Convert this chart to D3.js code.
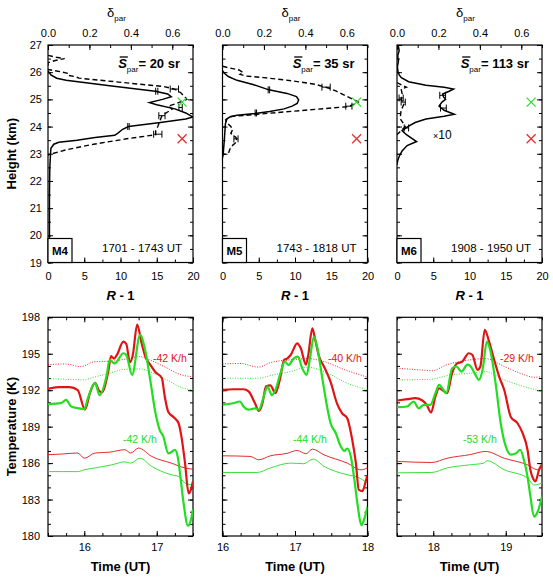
<!DOCTYPE html>
<html lang="en">
<head>
<meta charset="UTF-8">
<title>Profiles and temperatures M4-M6</title>
<style>
  body { margin: 0; padding: 0; background: #fff; }
  svg text { font-family: "Liberation Sans", Arial, Helvetica, sans-serif; fill: #000; }
  .frame { fill: none; stroke: #000; stroke-width: 1.2; }
  .tick line { stroke: #000; stroke-width: 1; }
</style>
</head>
<body>
<div id="chart"></div>
<script src="https://cdn.jsdelivr.net/npm/d3@7"></script>
<script>
// ---------- data ----------
const panelNames = ["M4", "M5", "M6"];
const timeRanges = ["1701 - 1743 UT", "1743 - 1818 UT", "1908 - 1950 UT"];
const sparValues = [20, 35, 113];

const heightTicks = [19, 20, 21, 22, 23, 24, 25, 26, 27];
const rTicks = [0, 5, 10, 15, 20];
const deltaTicks = [0.0, 0.2, 0.4, 0.6];
const tempTicks = [180, 183, 186, 189, 192, 195, 198];
const timeDomains = [[15.5, 17.5], [16, 18], [17.5, 19.5]];
const timeTicks = [[16, 17], [16, 17, 18], [18, 19]];
const redRates = ["-42 K/h", "-40 K/h", "-29 K/h"];
const greenRates = ["-42 K/h", "-44 K/h", "-53 K/h"];

// markers (R - 1, height)
const greenMarker = [18.5, 24.9];
const redMarker = [18.5, 23.55];

// backscatter R-1 profiles [height, R-1]
const m4Backscatter = [[26.05,0],[25.9,0.4],[25.78,1.2],[25.7,2.5],[25.5,8.5],[25.3,14.8],[25.2,16.5],[25.1,17.0],[25.0,15.8],[24.88,14.0],[24.8,15.0],[24.65,17.5],[24.5,19.0],[24.35,20.0],[24.28,19.0],[24.15,15.5],[24.0,11.1],[23.9,10.3],[23.75,9.6],[23.68,9.2],[23.6,6.5],[23.5,4.0],[23.42,1.5],[23.35,0.8],[23.2,0.4],[23.0,0.35],[22.5,0.25],[21.5,0.2],[19,0.2]];
const m5Backscatter = [[26.05,0],[25.95,0.3],[25.84,0.8],[25.7,2.0],[25.55,4.2],[25.35,6.4],[25.22,8.9],[25.1,10.2],[24.98,10.5],[24.85,10.3],[24.75,9.6],[24.65,8.5],[24.55,6.5],[24.48,4.5],[24.42,2.0],[24.35,1.0],[24.28,0.6],[24.1,0.4],[23.5,0.25],[23.0,0.1],[22.85,0]];
const m6Backscatter = [[27.0,0.15],[26.8,0.3],[26.6,0.1],[26.4,0.2],[26.2,0.05],[26.0,0.15],[25.9,0.3],[25.8,0.6],[25.65,1.6],[25.52,4.0],[25.45,6.5],[25.38,7.8],[25.3,7.2],[25.2,6.3],[25.1,6.4],[25.0,6.7],[24.9,6.2],[24.75,5.8],[24.6,6.5],[24.45,7.9],[24.38,6.5],[24.28,4.0],[24.15,2.5],[24.0,1.5],[23.85,0.7],[23.7,1.3],[23.45,2.7],[23.3,1.4],[23.1,0.7],[22.9,0.3],[22.75,0.1],[22.6,0]];

// depolarisation profiles [height, delta_par]
const m4Depol = [[26.62,0.0],[26.55,0.04],[26.5,0.08],[26.42,0.03],[26.35,0.0],[26.1,0.0],[26.02,0.06],[25.95,0.1],[25.88,0.1],[25.84,0.13],[25.78,0.15],[25.47,0.56],[25.38,0.61],[25.25,0.64],[25.1,0.66],[25.0,0.67],[24.85,0.62],[24.75,0.58],[24.65,0.6],[24.5,0.57],[24.4,0.55],[24.2,0.54],[24.0,0.53],[23.85,0.52],[23.7,0.52],[23.55,0.38],[23.35,0.22],[23.15,0.09],[23.0,0.02],[22.95,0.0]];
const m5Depol = [[26.22,0.0],[26.18,0.02],[26.08,0.08],[25.98,0.1],[25.92,0.085],[25.86,0.11],[25.8,0.2],[25.68,0.34],[25.55,0.45],[25.42,0.51],[25.3,0.55],[25.15,0.59],[25.0,0.63],[24.9,0.655],[24.8,0.63],[24.73,0.6],[24.37,0.04],[24.25,0.015],[24.15,0.02],[24.0,0.04],[23.9,0.05],[23.75,0.04],[23.6,0.065],[23.45,0.07],[23.25,0.04],[23.05,0.03],[22.95,0.0]];
const m6Depol = [[25.62,0.0],[25.5,0.03],[25.45,0.045],[25.38,0.02],[25.2,0.025],[25.0,0.02],[24.85,0.035],[24.6,0.02],[24.3,0.015],[24.0,0.04],[23.85,0.02],[23.7,0.0]];

// error bars [height, value, half width]
const m4BackscatterErr = [[25.3,15.0,0.15],[24.0,11.1,0.1]];
const m5BackscatterErr = [[25.35,6.4,0.1],[24.5,4.6,0.1]];
const m6BackscatterErr = [[25.15,6.3,0.4],[24.68,6.4,0.4],[23.95,1.3,0.3]];
const m4DepolErr = [[25.38,0.61,0.02],[24.7,0.64,0.008],[24.4,0.55,0.015],[23.72,0.53,0.02]];
const m5DepolErr = [[25.45,0.5,0.02],[24.75,0.61,0.015],[23.55,0.065,0.01]];
const m6DepolErr = [[25.05,0.02,0.01],[24.9,0.03,0.01]];

// temperatures [time UT, K]
const m4TempRed = [[15.5,192.1],[15.64,192.25],[15.8,192.25],[15.91,192.0],[16.01,190.4],[16.08,191.8],[16.15,192.6],[16.2,192.0],[16.24,191.8],[16.33,193.5],[16.37,194.8],[16.41,194.6],[16.45,194.9],[16.54,196.0],[16.58,195.8],[16.63,194.3],[16.67,194.9],[16.73,197.4],[16.79,195.9],[16.84,194.8],[16.91,194.1],[16.98,193.5],[17.07,193.0],[17.11,191.5],[17.16,190.2],[17.23,189.8],[17.3,189.3],[17.34,188.2],[17.39,186.0],[17.44,183.5],[17.47,183.8],[17.5,184.5]];
const m4TempGreen = [[15.5,190.85],[15.68,190.93],[15.75,191.2],[15.82,190.65],[15.91,190.52],[16.0,190.44],[16.05,191.34],[16.15,192.6],[16.21,191.6],[16.31,193.26],[16.35,194.5],[16.42,194.2],[16.54,195.04],[16.58,194.9],[16.66,193.26],[16.77,196.55],[16.84,195.3],[16.91,192.85],[16.98,190.2],[17.04,188.74],[17.09,188.2],[17.16,186.8],[17.2,186.9],[17.25,187.1],[17.29,186.5],[17.32,185.2],[17.37,182.7],[17.43,180.85],[17.47,181.3],[17.5,182.2]];
const m4UpperRed = [[15.5,194.1],[15.75,194.16],[15.95,193.94],[16.15,194.35],[16.4,194.4],[16.6,194.6],[16.76,194.76],[16.9,194.5],[17.1,193.95],[17.34,193.26],[17.5,193.1]];
const m4UpperGreen = [[15.5,192.95],[15.75,192.9],[15.98,192.85],[16.15,193.1],[16.35,193.4],[16.57,193.73],[16.77,193.75],[16.95,193.4],[17.14,192.85],[17.37,192.16],[17.5,192.03]];
const m4LowerRed = [[15.5,186.69],[15.7,186.75],[15.91,186.83],[16.0,186.4],[16.15,186.83],[16.35,186.9],[16.56,187.1],[16.64,186.83],[16.75,187.24],[16.93,186.55],[17.2,186.0],[17.39,185.6],[17.5,185.5]];
const m4LowerGreen = [[15.5,185.3],[15.7,185.3],[15.91,185.3],[16.0,185.45],[16.15,185.6],[16.38,185.86],[16.56,186.1],[16.64,186.0],[16.77,186.4],[16.93,185.73],[17.2,185.04],[17.3,184.9],[17.39,184.36],[17.5,184.2]];

const m5TempRed = [[16.0,192.03],[16.15,192.08],[16.29,192.08],[16.36,191.9],[16.45,190.9],[16.5,190.3],[16.55,190.9],[16.6,192.3],[16.66,192.4],[16.73,191.75],[16.79,192.85],[16.85,194.5],[16.89,194.6],[16.94,194.9],[17.03,195.86],[17.08,195.45],[17.15,194.1],[17.18,194.8],[17.24,197.1],[17.27,196.4],[17.33,194.8],[17.4,193.95],[17.49,192.7],[17.58,190.9],[17.65,190.1],[17.72,189.7],[17.79,187.9],[17.84,186.0],[17.88,183.8],[17.93,183.7],[17.98,184.6],[18.0,185.0]];
const m5TempGreen = [[16.0,190.8],[16.15,190.93],[16.24,191.07],[16.29,190.66],[16.36,190.4],[16.45,190.5],[16.5,190.4],[16.57,191.5],[16.62,192.3],[16.68,191.6],[16.73,192.03],[16.8,193.4],[16.86,194.35],[16.91,194.08],[16.98,194.6],[17.04,194.77],[17.1,193.8],[17.16,193.26],[17.21,194.77],[17.26,196.4],[17.31,195.45],[17.38,192.85],[17.45,190.4],[17.49,189.3],[17.56,188.5],[17.63,187.4],[17.68,187.0],[17.72,187.2],[17.77,186.55],[17.82,184.6],[17.86,182.7],[17.92,180.9],[17.95,181.3],[18.0,182.4]];
const m5UpperRed = [[16.0,194.16],[16.24,194.2],[16.5,193.9],[16.66,194.27],[16.94,194.5],[17.17,194.6],[17.4,194.36],[17.68,193.7],[18.0,193.07]];
const m5UpperGreen = [[16.0,192.98],[16.48,192.98],[16.7,193.26],[16.94,193.53],[17.17,193.9],[17.4,193.53],[17.72,192.58],[18.0,192.03]];
const m5LowerRed = [[16.0,186.6],[16.38,186.55],[16.5,186.27],[16.66,186.6],[16.89,186.8],[17.03,187.04],[17.15,186.77],[17.24,187.15],[17.4,186.68],[17.72,186.0],[17.91,185.45],[18.0,185.6]];
const m5LowerGreen = [[16.0,185.23],[16.48,185.23],[16.66,185.6],[16.94,186.0],[17.12,185.95],[17.25,186.33],[17.4,185.73],[17.72,185.04],[17.86,184.85],[18.0,184.36]];

const m6TempRed = [[17.5,191.15],[17.64,191.26],[17.75,191.34],[17.85,191.15],[17.91,190.8],[17.97,190.16],[18.03,191.48],[18.08,192.16],[18.15,191.9],[18.19,191.75],[18.26,193.4],[18.33,194.2],[18.4,194.35],[18.49,195.04],[18.54,194.9],[18.61,193.67],[18.65,193.95],[18.71,196.96],[18.77,196.0],[18.84,194.5],[18.91,193.1],[18.98,192.0],[19.07,189.8],[19.16,189.3],[19.23,188.5],[19.3,187.1],[19.34,185.45],[19.39,184.6],[19.41,184.5],[19.46,185.45],[19.5,185.9]];
const m6TempGreen = [[17.5,190.6],[17.64,190.66],[17.73,191.07],[17.8,190.5],[17.87,190.8],[17.96,190.8],[18.03,191.75],[18.08,192.44],[18.14,192.03],[18.18,191.75],[18.26,193.8],[18.32,193.95],[18.39,193.53],[18.47,194.1],[18.51,194.0],[18.57,193.4],[18.63,192.85],[18.68,193.67],[18.74,196.0],[18.79,195.2],[18.86,192.57],[18.93,189.3],[19.0,187.37],[19.07,186.7],[19.14,186.8],[19.2,187.1],[19.25,186.27],[19.3,184.9],[19.34,183.26],[19.39,181.6],[19.44,182.0],[19.5,183.26]];
const m6UpperRed = [[17.5,193.8],[17.82,193.67],[17.98,193.6],[18.19,194.1],[18.51,194.5],[18.72,194.6],[18.98,193.95],[19.2,193.4],[19.39,193.07],[19.5,193.1]];
const m6UpperGreen = [[17.5,192.85],[17.96,192.9],[18.24,193.26],[18.51,193.4],[18.72,193.53],[18.98,192.85],[19.25,192.3],[19.5,191.9]];
const m6LowerRed = [[17.5,186.14],[17.98,186.05],[18.19,186.4],[18.51,186.7],[18.72,186.96],[18.98,186.4],[19.3,185.86],[19.44,185.45],[19.5,185.9]];
const m6LowerGreen = [[17.5,185.2],[17.98,185.23],[18.19,185.6],[18.51,185.86],[18.7,186.0],[18.74,186.2],[18.98,185.45],[19.3,184.77],[19.39,184.2],[19.5,184.36]];

const backscatter = [m4Backscatter, m5Backscatter, m6Backscatter];
const depol = [m4Depol, m5Depol, m6Depol];
const backscatterErr = [m4BackscatterErr, m5BackscatterErr, m6BackscatterErr];
const depolErr = [m4DepolErr, m5DepolErr, m6DepolErr];
const tempRed = [m4TempRed, m5TempRed, m6TempRed];
const tempGreen = [m4TempGreen, m5TempGreen, m6TempGreen];
const upperRed = [m4UpperRed, m5UpperRed, m6UpperRed];
const upperGreen = [m4UpperGreen, m5UpperGreen, m6UpperGreen];
const lowerRed = [m4LowerRed, m5LowerRed, m6LowerRed];
const lowerGreen = [m4LowerGreen, m5LowerGreen, m6LowerGreen];

// ---------- layout ----------
const W = 553, H = 579;
const panelX = [48, 222.5, 397];
const panelW = 145;
const topY = [45, 262.5];
const botY = [317.3, 536];
const RED = "#e01414", GREEN = "#22dd22";

const svg = d3.select("#chart").append("svg")
  .attr("width", W).attr("height", H);

function addAxis(g, axis, transform, labels) {
  const a = g.append("g").attr("transform", transform).call(axis);
  a.select(".domain").remove();
  a.selectAll("text").style("font-size", "11px");
  if (!labels) a.selectAll("text").remove();
  return a;
}

// ticks on all four sides, pointing inward
function frameTicks(g, x, y, xMajor, xMinor, yMajor, yMinor, opts) {
  const [x0, x1] = x.range(), [y1, y0] = y.range();
  addAxis(g, d3.axisBottom(x).tickValues(xMinor).tickSize(-3), `translate(0,${y1})`, false);
  addAxis(g, d3.axisBottom(x).tickValues(xMajor).tickSize(-5).tickPadding(opts.xPad)
    .tickFormat(opts.xFmt), `translate(0,${y1})`, opts.xLabels);
  addAxis(g, d3.axisLeft(y).tickValues(yMinor).tickSize(-3), `translate(${x0},0)`, false);
  addAxis(g, d3.axisLeft(y).tickValues(yMajor).tickSize(-5).tickPadding(opts.yPad),
    `translate(${x0},0)`, opts.yLabels);
  addAxis(g, d3.axisRight(y).tickValues(yMinor).tickSize(-3), `translate(${x1},0)`, false);
  addAxis(g, d3.axisRight(y).tickValues(yMajor).tickSize(-5), `translate(${x1},0)`, false);
  if (!opts.topScale) {
    addAxis(g, d3.axisTop(x).tickValues(xMinor).tickSize(-3), `translate(0,${y0})`, false);
    addAxis(g, d3.axisTop(x).tickValues(xMajor).tickSize(-5), `translate(0,${y0})`, false);
  }
  g.append("rect").attr("class", "frame")
    .attr("x", x0).attr("y", y0).attr("width", x1 - x0).attr("height", y1 - y0);
}

// ---------- top row: profiles ----------
panelNames.forEach((name, i) => {
  const x0 = panelX[i], x1 = x0 + panelW;
  const g = svg.append("g");
  const xR = d3.scaleLinear().domain([0, 20]).range([x0, x1]);
  const xD = d3.scaleLinear().domain([0, 0.7]).range([x0, x1]);
  const y = d3.scaleLinear().domain([19, 27]).range([topY[1], topY[0]]);

  const clipId = "clipTop" + i;
  svg.append("clipPath").attr("id", clipId).append("rect")
    .attr("x", x0).attr("y", topY[0]).attr("width", panelW).attr("height", topY[1] - topY[0]);

  frameTicks(g, xR, y, rTicks, d3.range(0, 20.1, 2.5), heightTicks, d3.range(19, 27.01, 0.5), {
    xPad: 10, yPad: 6, xLabels: true, yLabels: i === 0, topScale: true, xFmt: d3.format("d")
  });
  // delta_par on top
  addAxis(g, d3.axisTop(xD).tickValues(d3.range(0, 0.71, 0.1)).tickSize(-3), `translate(0,${topY[0]})`, false);
  addAxis(g, d3.axisTop(xD).tickValues(deltaTicks).tickSize(-5).tickPadding(8)
    .tickFormat(d3.format(".1f")), `translate(0,${topY[0]})`, true);

  const plot = g.append("g").attr("clip-path", `url(#${clipId})`);
  const lineR = d3.line().x(d => xR(d[1])).y(d => y(d[0]));
  const lineD = d3.line().x(d => xD(d[1])).y(d => y(d[0]));

  plot.append("path").datum(depol[i]).attr("d", lineD)
    .attr("fill", "none").attr("stroke", "#000").attr("stroke-width", 1.4)
    .attr("stroke-dasharray", "5,3");
  plot.append("path").datum(backscatter[i]).attr("d", lineR)
    .attr("fill", "none").attr("stroke", "#000").attr("stroke-width", 1.5);

  const errBar = (data, sc) => data.forEach(d => {
    const yy = y(d[0]), xa = sc(d[1] - d[2]), xb = sc(d[1] + d[2]);
    plot.append("line").attr("x1", xa).attr("x2", xb).attr("y1", yy).attr("y2", yy)
      .attr("stroke", "#000").attr("stroke-width", 1);
    [xa, xb].forEach(xx => plot.append("line").attr("x1", xx).attr("x2", xx)
      .attr("y1", yy - 3.5).attr("y2", yy + 3.5).attr("stroke", "#000").attr("stroke-width", 1));
  });
  errBar(backscatterErr[i], xR);
  errBar(depolErr[i], xD);

  // cross markers
  [[greenMarker, "#33dd33"], [redMarker, "#e53030"]].forEach(([m, c]) => {
    const cx = xR(m[0]), cy = y(m[1]), s = 4.5;
    g.append("path").attr("d", `M${cx - s},${cy - s}L${cx + s},${cy + s}M${cx - s},${cy + s}L${cx + s},${cy - s}`)
      .attr("stroke", c).attr("stroke-width", 1.3).attr("fill", "none");
  });

  // S_par label
  const st = g.append("text").attr("x", x0 + 132).attr("y", 68)
    .attr("text-anchor", "end").style("font-weight", "bold").style("font-size", "13px");
  st.append("tspan").text("S").style("font-style", "italic");
  st.append("tspan").text("par").attr("dy", 3.5).style("font-size", "8px").style("font-weight", "normal");
  st.append("tspan").text(`= ${sparValues[i]} sr`).attr("dy", -3.5);
  const ext = st.node().getExtentOfChar(0);
  g.append("line").attr("x1", ext.x + 1.5).attr("x2", ext.x + ext.width + 1)
    .attr("y1", 57).attr("y2", 57).attr("stroke", "#000").attr("stroke-width", 1.3);

  // name box + time range
  g.append("rect").attr("x", x0).attr("y", 238.5).attr("width", 24).attr("height", 24)
    .attr("fill", "#fff").attr("stroke", "#000").attr("stroke-width", 1.2);
  g.append("text").attr("x", x0 + 12).attr("y", 255).attr("text-anchor", "middle")
    .style("font-weight", "bold").style("font-size", "11.5px").text(name);
  g.append("text").attr("x", x0 + 134).attr("y", 252).attr("text-anchor", "end")
    .style("font-size", "11.5px").text(timeRanges[i]);

  // axis titles
  const dl = g.append("text").attr("x", x0 + panelW / 2 - 4).attr("y", 17)
    .attr("text-anchor", "middle").style("font-size", "13px");
  dl.append("tspan").text("δ");
  dl.append("tspan").text("par").attr("dy", 4).style("font-size", "8px");

  const rl = g.append("text").attr("x", x0 + panelW / 2).attr("y", 300)
    .attr("text-anchor", "middle").style("font-weight", "bold").style("font-size", "13px");
  rl.append("tspan").text("R").style("font-style", "italic");
  rl.append("tspan").text(" - 1");

  if (i === 2) {
    const t10 = g.append("text").attr("x", 433).attr("y", 139).style("font-size", "12px");
    t10.append("tspan").text("×").style("font-size", "9px");
    t10.append("tspan").text("10");
  }
});

svg.append("text").attr("transform", `translate(16,${(topY[0] + topY[1]) / 2}) rotate(-90)`)
  .attr("text-anchor", "middle").style("font-weight", "bold").style("font-size", "13px")
  .text("Height (km)");

// ---------- bottom row: temperatures ----------
panelNames.forEach((name, i) => {
  const x0 = panelX[i], x1 = x0 + panelW;
  const g = svg.append("g");
  const x = d3.scaleLinear().domain(timeDomains[i]).range([x0, x1]);
  const y = d3.scaleLinear().domain([180, 198]).range([botY[1], botY[0]]);

  const clipId = "clipBot" + i;
  svg.append("clipPath").attr("id", clipId).append("rect")
    .attr("x", x0).attr("y", botY[0]).attr("width", panelW).attr("height", botY[1] - botY[0]);

  const [t0, t1] = timeDomains[i];
  frameTicks(g, x, y, timeTicks[i], d3.range(t0, t1 + 0.01, 0.25), tempTicks, d3.range(180, 198.1, 1), {
    xPad: 7, yPad: 8, xLabels: true, yLabels: i === 0, topScale: false, xFmt: d3.format("d")
  });

  const plot = g.append("g").attr("clip-path", `url(#${clipId})`);
  const line = d3.line().x(d => x(d[0])).y(d => y(d[1])).curve(d3.curveMonotoneX);
  const draw = (data, color, w, dash) => plot.append("path").datum(data).attr("d", line)
    .attr("fill", "none").attr("stroke", color).attr("stroke-width", w)
    .attr("stroke-dasharray", dash || null).attr("stroke-linejoin", "round");

  draw(upperRed[i], RED, 0.9, "1,1.5");
  draw(upperGreen[i], GREEN, 0.9, "1,1.5");
  draw(lowerRed[i], RED, 0.9);
  draw(lowerGreen[i], GREEN, 0.9);
  draw(tempRed[i], RED, 2.2);
  draw(tempGreen[i], GREEN, 2.2);

  const rxs = [153, 328, 500];
  const gxs = [123, 293, 463];
  g.append("text").attr("x", rxs[i]).attr("y", 361.5).style("font-size", "10.5px")
    .style("fill", RED).text(redRates[i]);
  g.append("text").attr("x", gxs[i]).attr("y", 443).style("font-size", "10.5px")
    .style("fill", GREEN).text(greenRates[i]);

  g.append("text").attr("x", x0 + panelW / 2).attr("y", 571).attr("text-anchor", "middle")
    .style("font-weight", "bold").style("font-size", "13px").text("Time (UT)");
});

svg.append("text").attr("transform", `translate(16,${(botY[0] + botY[1]) / 2}) rotate(-90)`)
  .attr("text-anchor", "middle").style("font-weight", "bold").style("font-size", "13px")
  .text("Temperature (K)");
</script>
</body>
</html>
